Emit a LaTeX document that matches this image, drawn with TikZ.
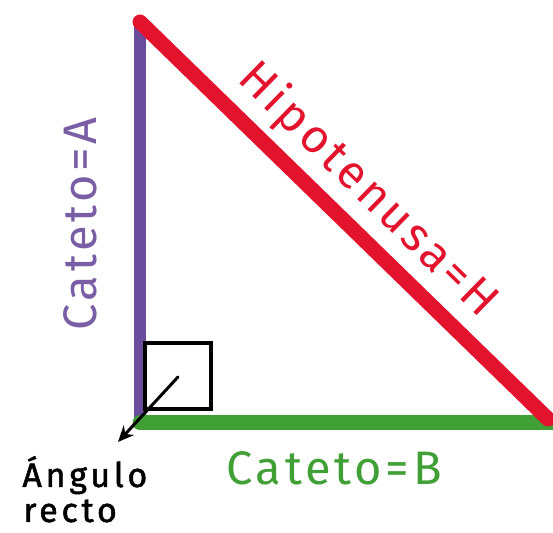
\documentclass[tikz,border=0pt]{standalone}
\usepackage{fontspec}
\setmainfont{Fira Sans}
\newfontfamily\tagfont[LetterSpace=8]{Fira Sans}
\newfontfamily\notefont[LetterSpace=11, FakeBold=1.5]{Fira Sans}
\usetikzlibrary{arrows.meta}
\definecolor{catA}{HTML}{6A4C9C}
\definecolor{catB}{HTML}{40A036}
\definecolor{hipo}{HTML}{E3132E}
\begin{document}
\begin{tikzpicture}[x=0.5pt, y=-0.5pt, line join=round, line cap=round, >={Stealth[length=8pt,width=7pt]},
		tag/.style={font=\tagfont\fontsize{23.5}{26}\selectfont, inner sep=0pt},
		note/.style={font=\notefont\fontsize{17}{18}\selectfont, inner sep=0pt}]
				\useasboundingbox (0,0) rectangle (553,533);
				\coordinate (T) at (140,22);
				\coordinate (O) at (140,423);
				\coordinate (R) at (548,419);
				\coordinate (E) at (565,423);
				\coordinate (tail) at (178,377);
				\coordinate (tip) at (118,442);
				\draw[catA, line width=6pt] (T)--(O);
				\draw[catB, line width=7.5pt] (O)--(E);
				\draw[hipo, line width=7.5pt] (T)--(R);
				\draw[line width=2pt, line cap=butt, line join=miter] (145,343) rectangle (211,409);
				\draw[->, line width=1.5pt] (tail)--(tip);
				\node[tag, catA!90!white, rotate=90, anchor=base] (catetoA) at (97,224) {Cateto=A};
				\node[tag, catB, anchor=base] (catetoB) at (334,485) {Cateto=B};
				\node[tag, hipo, rotate=-44.4, anchor=base] (hipotenusa) at (358,200) {Hipotenusa=H};
				\node[note, anchor=base west] (angulo) at (22,487) {Ángulo};
				\node[note, anchor=base west] (recto) at (23,522) {recto};
			\end{tikzpicture}
\end{document}
